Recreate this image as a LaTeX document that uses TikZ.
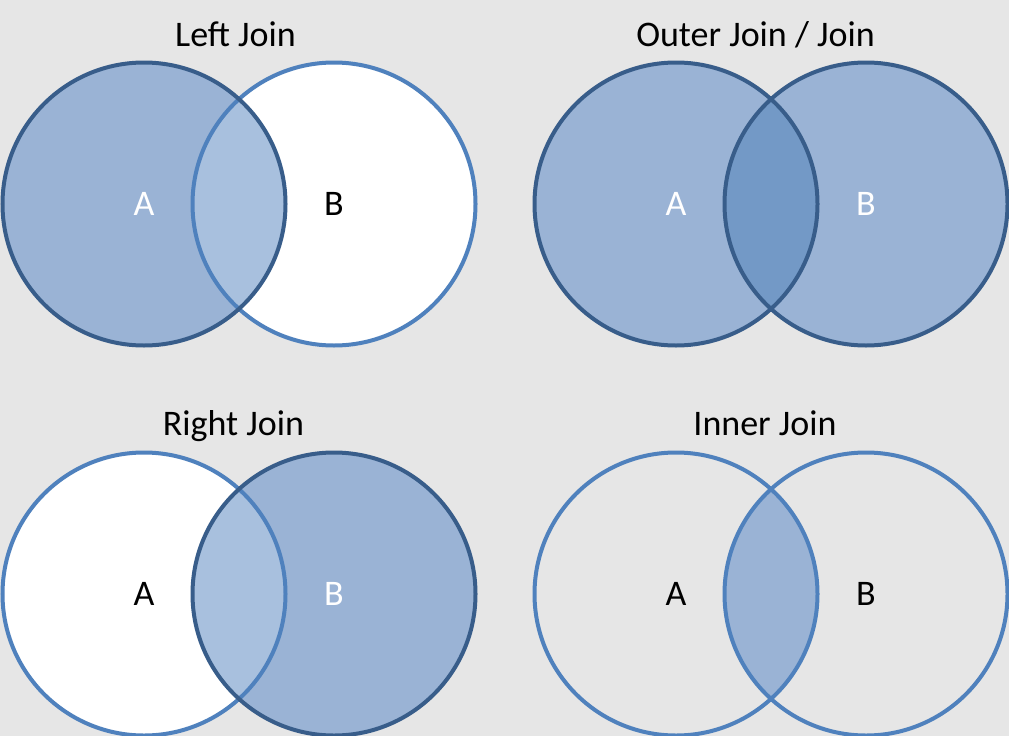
\documentclass[tikz,border=0pt]{standalone}
\usepackage{fontspec}
\setmainfont{Carlito}
\definecolor{bg}{HTML}{E6E6E6}
\definecolor{darkline}{HTML}{385D8A}
\definecolor{lightline}{HTML}{4F81BD}
\definecolor{setfill}{HTML}{9AB3D5}
\definecolor{lensfill}{HTML}{A8C0DE}
\definecolor{overlap}{HTML}{7399C6}
\begin{document}
\begin{tikzpicture}[x=1pt,y=-1pt,
  title/.style={font=\fontsize{36}{40}\selectfont, anchor=base, inner sep=0pt, text=black},
  lbl/.style={font=\fontsize{36}{40}\selectfont, inner sep=0pt},
  darkring/.style={draw=darkline, line width=4pt},
  lightring/.style={draw=lightline, line width=4pt}]
\fill[bg] (0,0) rectangle (1009,736);
\useasboundingbox (0,0) rectangle (1009,736);
\def\R{141.5}
% centres
\coordinate (LA) at (144,204);
\coordinate (LB) at (334,204);
\coordinate (OA) at (676,204);
\coordinate (OB) at (866,204);
\coordinate (RA) at (144,594);
\coordinate (RB) at (334,594);
\coordinate (IA) at (676,594);
\coordinate (IB) at (866,594);

% ---- Left Join ----
\fill[white] (LB) circle[radius=\R];
\fill[setfill] (LA) circle[radius=\R];
\begin{scope}
  \clip (LA) circle[radius=\R];
  \fill[lensfill] (LB) circle[radius=\R];
\end{scope}
\path[lightring] (LB) circle[radius=\R];
\path[darkring] (LA) circle[radius=\R];
\node[title] (tL) at (235.5,46) {Left Join};
\node[lbl, text=white] (lLA) at (LA) {A};
\node[lbl, text=black] (lLB) at (LB) {B};

% ---- Outer Join ----
\fill[setfill] (OA) circle[radius=\R];
\fill[setfill] (OB) circle[radius=\R];
\begin{scope}
  \clip (OA) circle[radius=\R];
  \fill[overlap] (OB) circle[radius=\R];
\end{scope}
\path[darkring] (OA) circle[radius=\R];
\path[darkring] (OB) circle[radius=\R];
\node[title] (tO) at (755.5,46) {Outer Join / Join};
\node[lbl, text=white] (lOA) at (OA) {A};
\node[lbl, text=white] (lOB) at (OB) {B};

% ---- Right Join ----
\fill[white] (RA) circle[radius=\R];
\fill[setfill] (RB) circle[radius=\R];
\begin{scope}
  \clip (RB) circle[radius=\R];
  \fill[lensfill] (RA) circle[radius=\R];
\end{scope}
\path[lightring] (RA) circle[radius=\R];
\path[darkring] (RB) circle[radius=\R];
\node[title] (tR) at (233.5,435) {Right Join};
\node[lbl, text=black] (lRA) at (RA) {A};
\node[lbl, text=white] (lRB) at (RB) {B};

% ---- Inner Join ----
\begin{scope}
  \clip (IA) circle[radius=\R];
  \fill[setfill] (IB) circle[radius=\R];
\end{scope}
\path[lightring] (IA) circle[radius=\R];
\path[lightring] (IB) circle[radius=\R];
\node[title] (tI) at (765,435) {Inner Join};
\node[lbl, text=black] (lIA) at (IA) {A};
\node[lbl, text=black] (lIB) at (IB) {B};
\end{tikzpicture}
\end{document}
